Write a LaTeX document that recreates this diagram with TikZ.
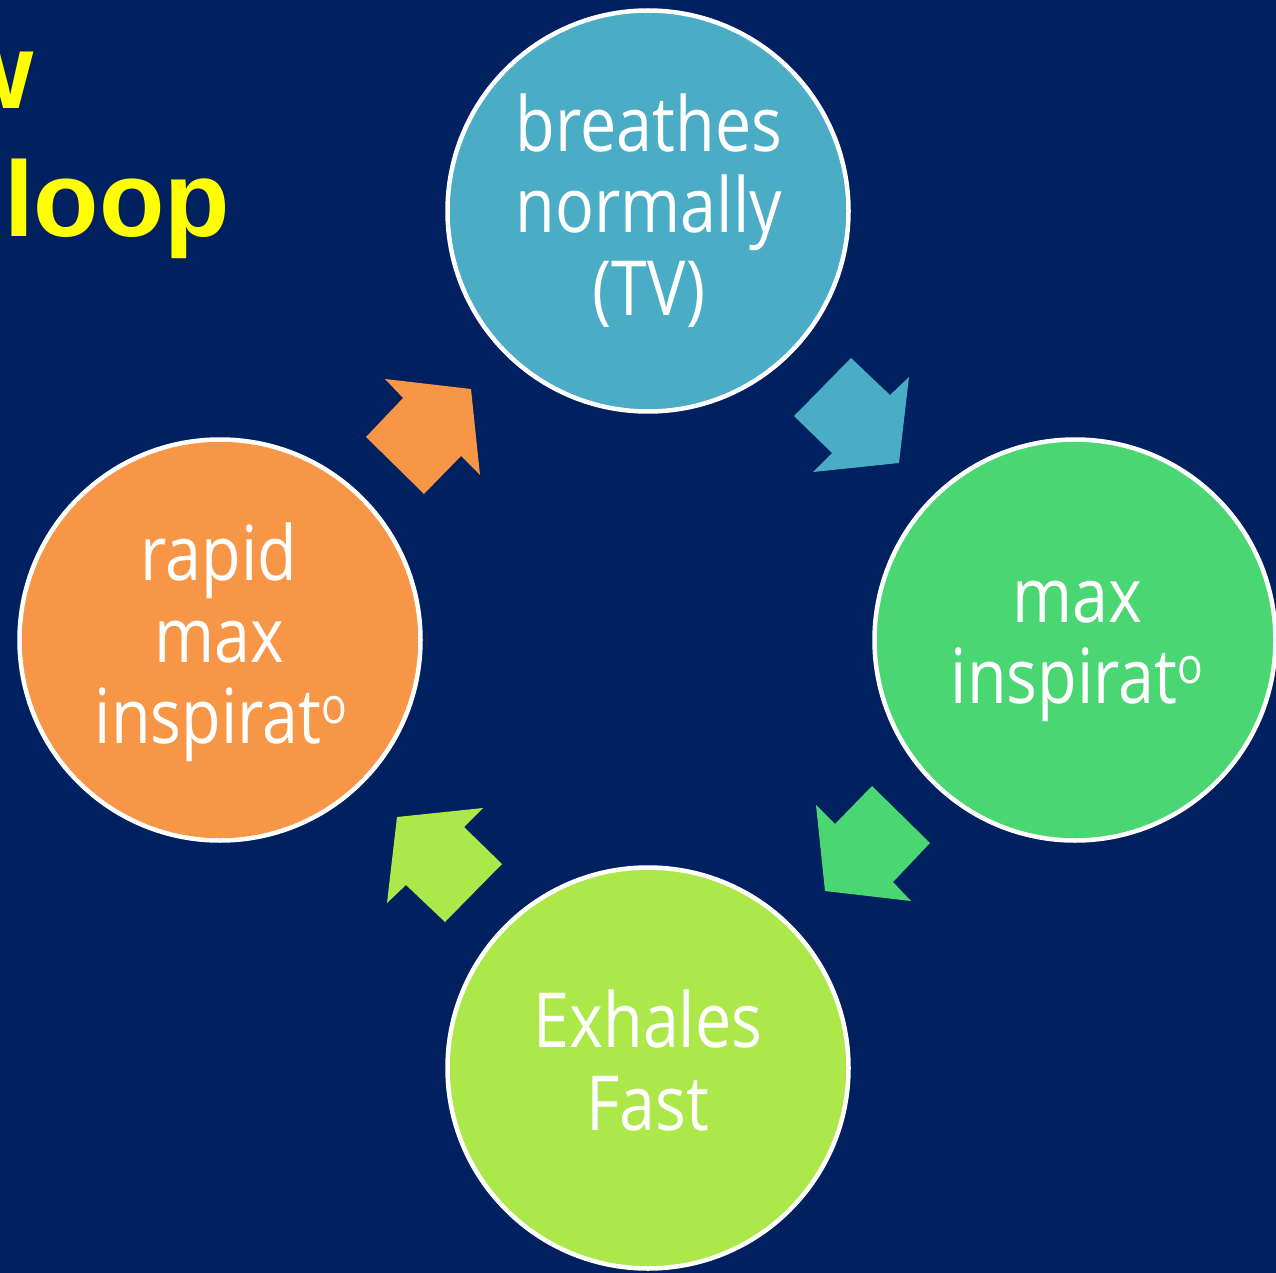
\documentclass[tikz,border=0pt]{standalone}
\usepackage{fontspec}
\setmainfont{Open Sans}[FakeStretch=0.85]
\newfontfamily\titlefont{Liberation Sans}
\definecolor{bg}{HTML}{002060}
\definecolor{cblue}{HTML}{4BACC6}
\definecolor{cgreen}{HTML}{4AD773}
\definecolor{clime}{HTML}{ADE84A}
\definecolor{corange}{HTML}{F79646}
\definecolor{ttl}{HTML}{FFFF00}
\newcommand\supo{\raisebox{20pt}{\fontsize{50}{50}\selectfont o}}
\tikzset{
  bubble/.style={circle, draw=white, line width=4.5pt, minimum size=401pt, inner sep=0pt},
  lbl/.style={text=white, font=\fontsize{76}{82}\selectfont, anchor=base, inner sep=0pt},
  ttlstyle/.style={text=ttl, font=\titlefont\bfseries\fontsize{107}{107}\selectfont, anchor=base west, inner sep=0pt},
  cycarrow/.pic={\path[pic actions] (203,-282) -- (242,-245) -- (261,-263) -- (251,-177) -- (165,-168) -- (184,-187) -- (146,-224) -- cycle;}
}
\begin{document}
\begin{tikzpicture}[x=1pt,y=-1pt]
\fill[bg] (0,0) rectangle (1276,1273);
\useasboundingbox (0,0) rectangle (1276,1273);
% title fragments
\node[ttlstyle] (ttlA) at (-50,109) {w};
\node[ttlstyle] (ttlB) at (4,237) {loop};
% circles
\node[bubble, fill=cblue]   (ctop)    at (648,211) {};
\node[bubble, fill=cgreen]  (cright)  at (1075,640) {};
\node[bubble, fill=clime]   (cbottom) at (648,1068) {};
\node[bubble, fill=corange] (cleft)   at (220,640) {};
% arrows
\pic[fill=cblue] at (648,640) {cycarrow};
\pic[fill=cgreen, rotate=-90] at (648,640) {cycarrow};
\pic[fill=clime, rotate=-180] at (648,640) {cycarrow};
\pic[fill=corange, rotate=90] at (648,640) {cycarrow};
% labels
\node[lbl] (t1a) at (649,152) {breathes};
\node[lbl] (t1b) at (649,233) {normally};
\node[lbl] (t1c) at (649,315) {(TV)};
\node[lbl] (t2a) at (1077,622) {max};
\node[lbl] (t2b) at (1077,703) {inspirat\supo};
\node[lbl] (t3a) at (648,1047) {Exhales};
\node[lbl] (t3b) at (648,1130) {Fast};
\node[lbl] (t4a) at (219,580) {rapid};
\node[lbl] (t4b) at (219,662) {max};
\node[lbl] (t4c) at (221,743) {inspirat\supo};
\end{tikzpicture}
\end{document}
